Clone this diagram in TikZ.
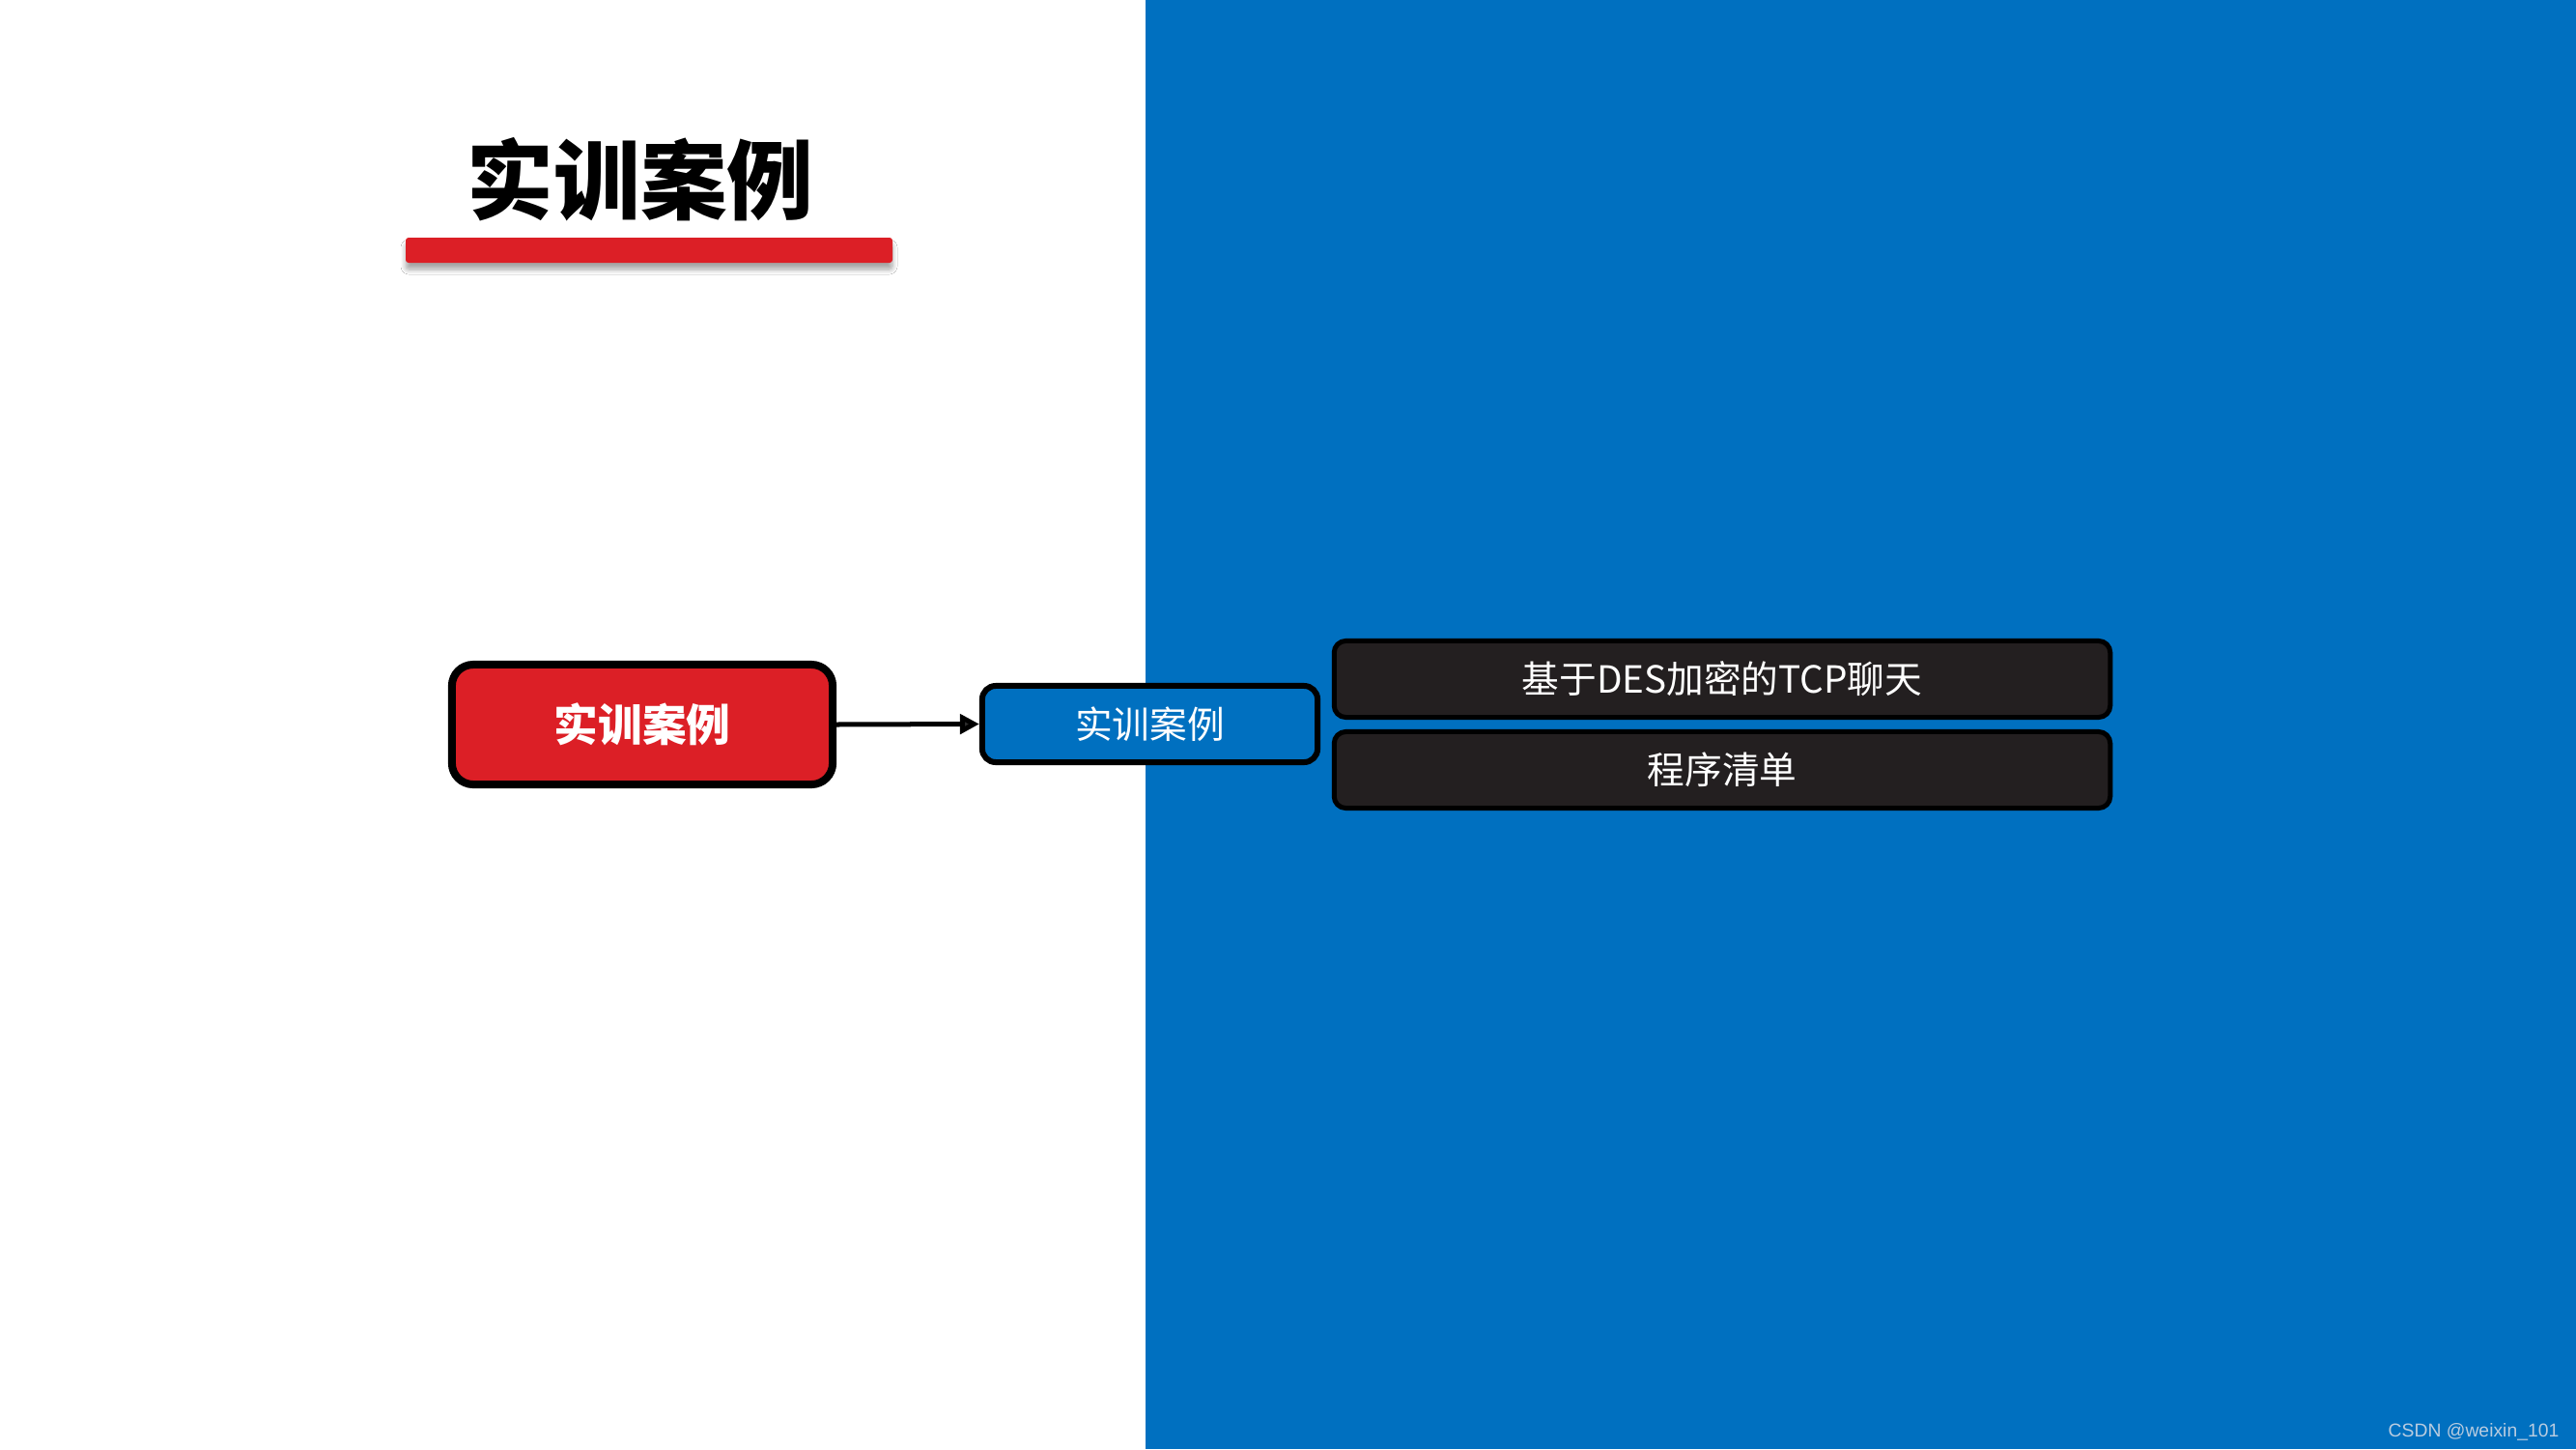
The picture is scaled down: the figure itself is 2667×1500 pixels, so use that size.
\documentclass[tikz,border=0pt]{standalone}
\usepackage{fontspec}
\setmainfont{Liberation Sans}
\newfontfamily\cjk{Noto Sans CJK SC}
\usetikzlibrary{arrows.meta,shadows.blur}
\definecolor{panelblue}{HTML}{0070C0}
\definecolor{boxred}{HTML}{DC1F26}
\definecolor{boxdark}{HTML}{231F20}
\definecolor{wm}{HTML}{B9CCE0}
\begin{document}
\begin{tikzpicture}[x=0.01cm,y=-0.01cm,
  redbox/.style={draw=black,fill=boxred,line width=0.08cm,rounded corners=0.22cm,
    minimum width=3.94cm,minimum height=1.24cm,inner sep=0pt,text=white,
    font=\cjk\bfseries\fontsize{13}{15}\selectfont},
  bluebox/.style={draw=black,fill=panelblue,line width=0.06cm,rounded corners=0.14cm,
    minimum width=3.47cm,minimum height=0.79cm,inner sep=0pt,text=white,
    font=\cjk\fontsize{11}{13}\selectfont},
  darkbox/.style={draw=black,fill=boxdark,line width=0.05cm,rounded corners=0.12cm,
    minimum width=8.03cm,minimum height=0.79cm,inner sep=0pt,text=white,
    font=\cjk\fontsize{11}{13}\selectfont},
  conn/.style={line width=0.05cm,-{Triangle[length=0.2cm,width=0.2cm]}}]
\useasboundingbox (0,0) rectangle (2667,1500);
\fill[white] (0,0) rectangle (2667,1500);
\fill[panelblue] (1186,0) rectangle (2667,1500);
\node[font=\cjk\bfseries\fontsize{25.5}{30}\selectfont,inner sep=0pt] (title) at (663,186) {实训案例};
\fill[boxred,rounded corners=0.03cm,blur shadow={shadow xshift=0pt,shadow yshift=-0.07cm,shadow blur radius=0.05cm,shadow opacity=35,shadow blur steps=6}] (420,246) rectangle (924,272);
\node[redbox] (main) at (665,750) {实训案例};
\node[bluebox] (sub) at (1190.5,749.5) {实训案例};
\node[darkbox] (d1) at (1783,703) {基于DES加密的TCP聊天};
\node[darkbox] (d2) at (1783,797) {程序清单};
\draw[conn] (main.east) -- (sub.west);
\node[anchor=base east,inner sep=0pt,text=wm,font=\fontsize{5.5}{7}\selectfont] (wmark) at (2650,1487) {CSDN @weixin\_101};
\end{tikzpicture}
\end{document}
